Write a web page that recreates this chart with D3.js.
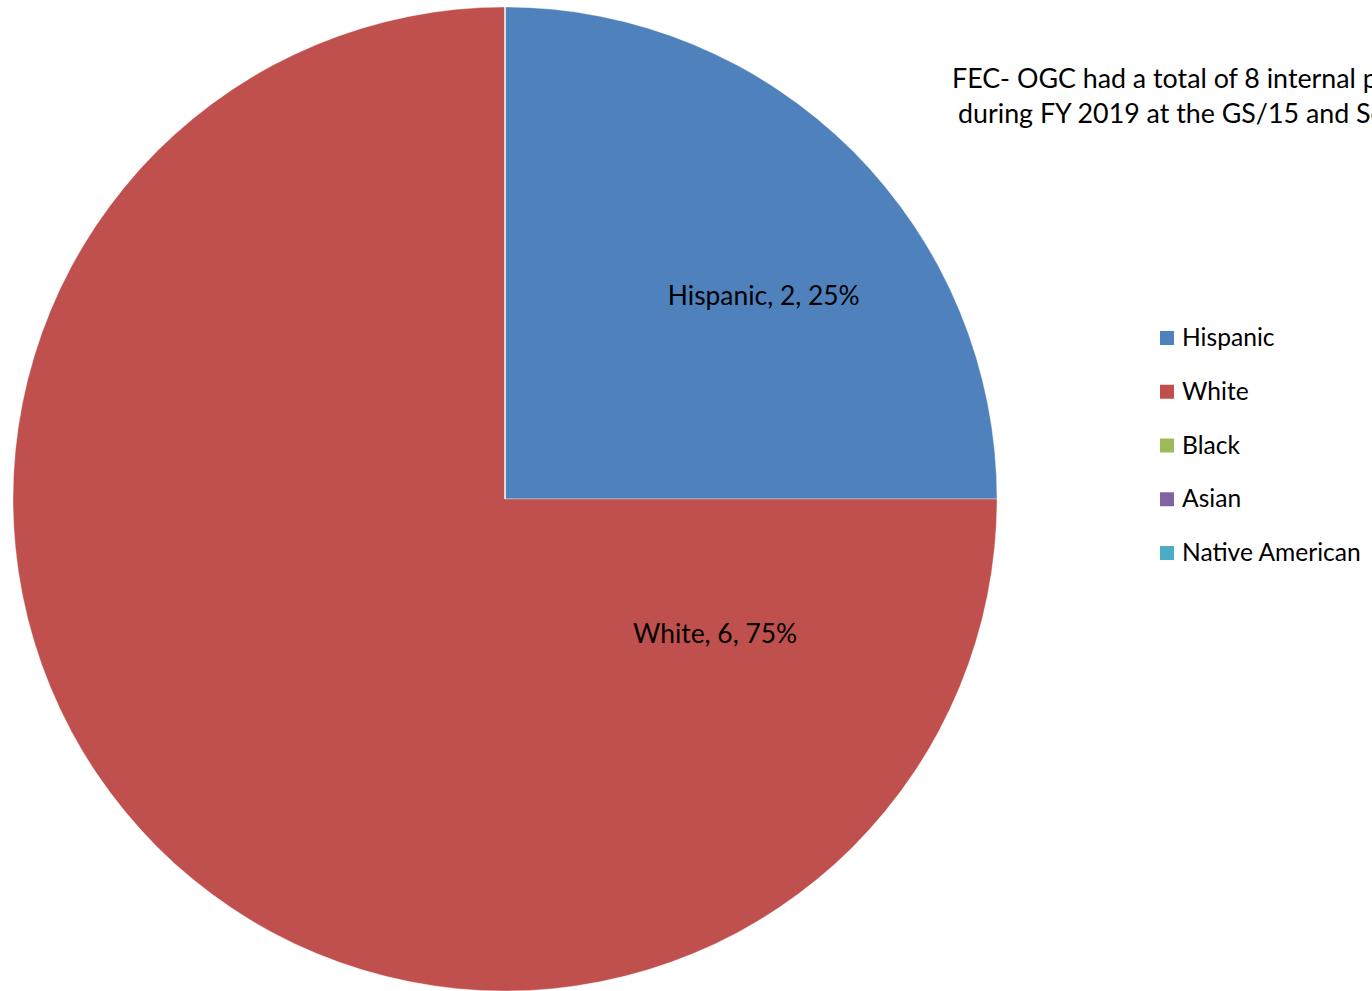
<!DOCTYPE html>
<html>
<head>
<meta charset="utf-8">
<script src="https://cdn.jsdelivr.net/npm/d3@7"></script>
<style>
  html, body { margin: 0; padding: 0; background: #fff; overflow: hidden; }
  text { font-family: Lato, "Open Sans", sans-serif; fill: #000; }
</style>
</head>
<body>
<div id="chart"></div>
<script>
// Data
var categories = ["Hispanic", "White", "Black", "Asian", "Native American"];
var counts = [2, 6, 0, 0, 0];
var colors = ["#4F81BD", "#C0504D", "#9BBB59", "#8064A2", "#4BACC6"];
var titleLines = ["FEC- OGC had a total of 8 internal promotions",
                  "during FY 2019 at the GS/15 and Senior Level"];

// Size of the picture
var width = 1372,
    height = 991,
    cx = 505,
    cy = 499,
    radius = 492;

var svg = d3.select("#chart")
    .append("svg")
    .attr("width", width)
    .attr("height", height);

var total = d3.sum(counts);

// Pie layout, clockwise from 12 o'clock as in Excel
var pie = d3.pie()
    .sort(null)
    .value(function(d) { return d; });

var arc = d3.arc()
    .innerRadius(0)
    .outerRadius(radius);

var arcs = pie(counts);

var g = svg.append("g")
    .attr("transform", "translate(" + cx + "," + cy + ")");

g.selectAll("path")
    .data(arcs)
    .enter()
    .append("path")
    .attr("d", arc)
    .attr("fill", function(d, i) { return colors[i]; })
    .attr("stroke", "rgba(255,255,255,0.35)")
    .attr("stroke-width", 1);

// Data labels; offsets in units of radius
var labelX = [0.526, 0.427];
var labelY = [-0.394, 0.293];

arcs.forEach(function(d, i) {
    if (d.value == 0) return;
    g.append("text")
        .attr("x", labelX[i] * radius)
        .attr("y", labelY[i] * radius)
        .style("text-anchor", "middle")
        .style("font-size", "26.4px")
        .text(categories[i] + ", " + d.value + ", " + Math.round(d.value / total * 100) + "%");
});

// Title, cut by the right edge like the original
var title = svg.append("text")
    .style("font-size", "26.8px");
titleLines.forEach(function(line, i) {
    title.append("tspan")
        .attr("x", i == 0 ? 952 : 958)
        .attr("y", 88 + i * 35)
        .text(line);
});

// Legend
var legend = svg.append("g")
    .attr("transform", "translate(1160,331)");

categories.forEach(function(name, i) {
    var row = legend.append("g")
        .attr("transform", "translate(0," + (i * 53.75) + ")");
    row.append("rect")
        .attr("width", 14)
        .attr("height", 14)
        .attr("fill", colors[i]);
    row.append("text")
        .attr("x", 22)
        .attr("y", 15)
        .style("font-size", "24.6px")
        .text(name);
});
</script>
</body>
</html>
